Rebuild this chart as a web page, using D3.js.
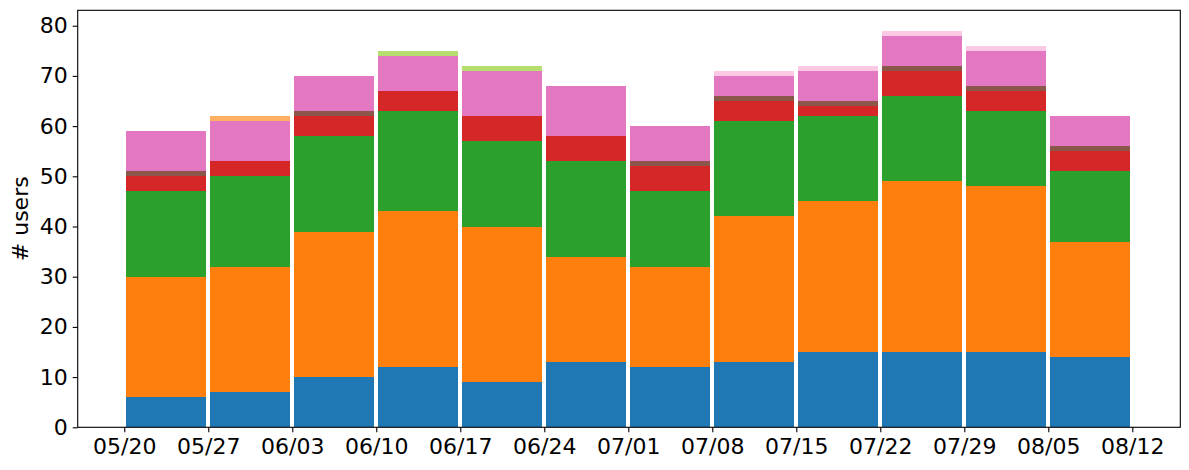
<!DOCTYPE html>
<html>
<head>
<meta charset="utf-8">
<script src="https://cdn.jsdelivr.net/npm/d3@7"></script>
<style>
  body { margin: 0; background: #fff; }
  text { font-family: "DejaVu Sans", sans-serif; }
</style>
</head>
<body>
<svg id="chart" width="1189" height="470"></svg>
<script>
// week start of every bar
const weeks = ["2019-05-20", "2019-05-27", "2019-06-03", "2019-06-10", "2019-06-17", "2019-06-24",
               "2019-07-01", "2019-07-08", "2019-07-15", "2019-07-22", "2019-07-29", "2019-08-05"];
const tickDates = weeks.concat(["2019-08-12"]);

// users per group, bottom to top
const blue      = [6, 7, 10, 12, 9, 13, 12, 13, 15, 15, 15, 14];
const orange    = [24, 25, 29, 31, 31, 21, 20, 29, 30, 34, 33, 23];
const green     = [17, 18, 19, 20, 17, 19, 15, 19, 17, 17, 15, 14];
const red       = [3, 3, 4, 4, 5, 5, 5, 4, 2, 5, 4, 4];
const brown     = [1, 0, 1, 0, 0, 0, 1, 1, 1, 1, 1, 1];
const pink      = [8, 8, 7, 7, 9, 10, 7, 4, 6, 6, 7, 6];
const lightOrg  = [0, 1, 0, 0, 0, 0, 0, 0, 0, 0, 0, 0];
const lightGrn  = [0, 0, 0, 1, 1, 0, 0, 0, 0, 0, 0, 0];
const lightPink = [0, 0, 0, 0, 0, 0, 0, 1, 1, 1, 1, 0];

const yTicks = [0, 10, 20, 30, 40, 50, 60, 70, 80];

const series = [
    {key: "blue", values: blue, color: "#1f77b4"},
    {key: "orange", values: orange, color: "#ff7f0e"},
    {key: "green", values: green, color: "#2ca02c"},
    {key: "red", values: red, color: "#d62728"},
    {key: "brown", values: brown, color: "#8c564b"},
    {key: "pink", values: pink, color: "#e377c2"},
    {key: "lightOrg", values: lightOrg, color: "#ffb062"},
    {key: "lightGrn", values: lightGrn, color: "#b5de6e"},
    {key: "lightPink", values: lightPink, color: "#fbc9e3"}
];

const LEFT = 77.7, RIGHT = 1180.3, TOP = 10.3, BOTTOM = 427.3;
const DAY = 24 * 3600 * 1000;
const BAR_W = 6.65;   // days
const parse = d3.utcParse("%Y-%m-%d");
const shift = (d, days) => new Date(+d + days * DAY);

const table = weeks.map((w, i) => {
    const row = {date: parse(w)};
    series.forEach(s => { row[s.key] = s.values[i]; });
    return row;
});

const first = parse(tickDates[0]);
const last = parse(tickDates[tickDates.length - 1]);

const x = d3.scaleUtc()
    .domain([shift(first, -3.88), shift(last, 4.0)])
    .range([LEFT, RIGHT]);

const y = d3.scaleLinear()
    .domain([0, 83.07])
    .range([BOTTOM, TOP]);

const stacked = d3.stack().keys(series.map(s => s.key))(table);

const svg = d3.select("#chart");

svg.append("g")
    .attr("shape-rendering", "crispEdges")
    .selectAll("g")
    .data(stacked)
    .join("g")
    .attr("fill", (d, i) => series[i].color)
    .selectAll("rect")
    .data(d => d.filter(p => p[1] > p[0]))
    .join("rect")
    .attr("x", d => x(shift(d.data.date, 3.5 - BAR_W / 2)))
    .attr("width", d => x(shift(d.data.date, 3.5 + BAR_W / 2)) - x(shift(d.data.date, 3.5 - BAR_W / 2)))
    .attr("y", d => y(d[1]))
    .attr("height", d => y(d[0]) - y(d[1]));

// frame
svg.append("rect")
    .attr("x", LEFT).attr("y", TOP)
    .attr("width", RIGHT - LEFT).attr("height", BOTTOM - TOP)
    .attr("fill", "none").attr("stroke", "#000").attr("stroke-width", 1.1);

const xAxis = svg.append("g")
    .attr("transform", `translate(0,${BOTTOM})`)
    .call(d3.axisBottom(x)
        .tickValues(tickDates.map(parse))
        .tickFormat(d3.utcFormat("%m/%d"))
        .tickSize(5)
        .tickPadding(6));

const yAxis = svg.append("g")
    .attr("transform", `translate(${LEFT},0)`)
    .call(d3.axisLeft(y)
        .tickValues(yTicks)
        .tickSize(5)
        .tickPadding(5));

[xAxis, yAxis].forEach(g => {
    g.select(".domain").remove();
    g.selectAll(".tick line").attr("stroke", "#000").attr("stroke-width", 1.1);
    g.selectAll(".tick text")
        .attr("fill", "#000")
        .style("font-size", "22px")
        .style("font-family", "DejaVu Sans");
});

svg.append("text")
    .attr("transform", `translate(28,${(TOP + BOTTOM) / 2}) rotate(-90)`)
    .attr("text-anchor", "middle")
    .style("font-size", "22px")
    .text("# users");
</script>
</body>
</html>
